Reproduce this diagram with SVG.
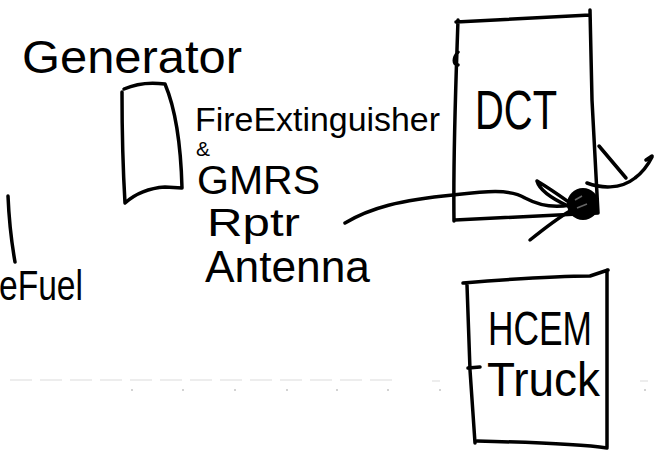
<svg xmlns="http://www.w3.org/2000/svg" width="654" height="456" viewBox="0 0 654 456">
<style>
.ink{fill:none;stroke:#000;stroke-width:3.5;stroke-linecap:round;stroke-linejoin:round}
.t{font-family:"Liberation Sans","DejaVu Sans",sans-serif;fill:#000}
.faint{fill:none;stroke:#dcdcdc;stroke-width:1.2}
</style>
<rect width="654" height="456" fill="#fff"/>
<g id="background">
<path class="faint" d="M10,380 L400,380" stroke-dasharray="22,8"/>
<path class="faint" d="M432,381 L440,381 M640,381 L648,381"/>
<g fill="#c4c4c4">
<circle cx="132" cy="390" r="1"/><circle cx="183" cy="390" r="1"/><circle cx="235" cy="390" r="1"/>
<circle cx="287" cy="390" r="1"/><circle cx="337" cy="390" r="1"/><circle cx="388" cy="390" r="1"/>
<circle cx="440" cy="390" r="1"/><circle cx="645" cy="390" r="1"/>
</g>
</g>
<g id="generator">
<text class="t" x="22" y="73" font-size="46" textLength="220" lengthAdjust="spacingAndGlyphs">Generator</text>
<path class="ink" d="M124,89 C135,84 150,82 165,84 C176,110 181,150 182,188 L165,187 C150,188 135,194 125,203 C123,170 122,130 122,92"/>
</g>
<g id="equipment-label">
<text class="t" x="195" y="131" font-size="34" textLength="245" lengthAdjust="spacingAndGlyphs">FireExtinguisher</text>
<text class="t" x="196" y="156" font-size="21">&amp;</text>
<text class="t" x="197" y="194" font-size="40" textLength="123" lengthAdjust="spacingAndGlyphs">GMRS</text>
<text class="t" x="207" y="236" font-size="38" textLength="93" lengthAdjust="spacingAndGlyphs">Rptr</text>
<text class="t" x="205" y="282" font-size="44" textLength="165" lengthAdjust="spacingAndGlyphs">Antenna</text>
</g>
<g id="fuel">
<path class="ink" d="M8,196 C9,220 12,245 15,262"/>
<text class="t" x="-1" y="300" font-size="42" textLength="84" lengthAdjust="spacingAndGlyphs">eFuel</text>
</g>
<g id="dct">
<path class="ink" d="M456,22 L590,15 M590,10 L592,100 L598,213 M455,220 L598,213 M458,20 C456,80 453,150 454,221 M458,52 C453,58 453,64 458,65"/>
<text class="t" x="475" y="129" font-size="56" textLength="82" lengthAdjust="spacingAndGlyphs">DCT</text>
</g>
<g id="hcem-truck">
<path class="ink" d="M463,283 C500,280 560,276 590,276 L608,270 M467,285 L470,370 L475,443 M607,270 L607,447 M477,441 C520,442 580,444 607,448 M468,368 L480,367"/>
<text class="t" x="488" y="345" font-size="48" textLength="104" lengthAdjust="spacingAndGlyphs">HCEM</text>
<text class="t" x="487" y="396" font-size="48" textLength="113" lengthAdjust="spacingAndGlyphs">Truck</text>
</g>
<g id="antenna-node">
<circle cx="583" cy="204" r="16" fill="#000"/>
<path d="M575,200 L582,196 M577,208 L587,204" stroke="#666" stroke-width="1.5" fill="none"/>
</g>
<g id="connectors">
<path class="ink" d="M345,223 C370,208 400,200 453,195 C480,192 510,188 525,198 C540,206 555,208 570,205"/>
<path class="ink" stroke-width="2.5" d="M537,181 C552,190 563,198 570,203 M537,181 C540,192 555,200 568,206"/>
<path class="ink" d="M530,240 C545,228 558,218 570,211"/>
<path class="ink" d="M599,146 L626,178"/>
<path class="ink" d="M587,183 C600,188 620,190 635,178 C643,172 648,165 652,157 M646,160 L652,156"/>
</g>
</svg>
